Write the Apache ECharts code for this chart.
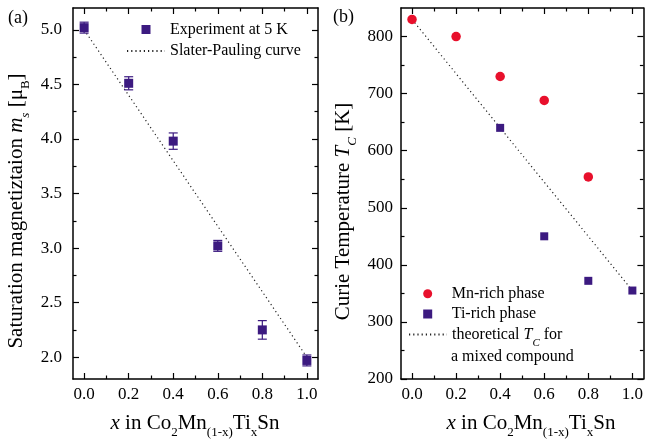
<!DOCTYPE html>
<html>
<head>
<meta charset="utf-8">
<script src="https://cdn.jsdelivr.net/npm/echarts@6/dist/echarts.min.js"></script>
<style>
  html, body { margin: 0; padding: 0; background: #fff; }
  #chart { width: 646px; height: 442px; }
</style>
</head>
<body>
<div id="chart"></div>
<script>
// ---------- data ----------
const xComp = [0.0, 0.2, 0.4, 0.6, 0.8, 1.0];
const msat = [5.02, 4.51, 3.98, 3.02, 2.25, 1.97];
const msatErr = [0.05, 0.06, 0.075, 0.05, 0.085, 0.05];
const slaterX = [0.0, 1.0];
const slaterY = [5.0, 2.0];

const mnX = [0.0, 0.2, 0.4, 0.6, 0.8];
const mnTc = [830, 800, 730, 688, 554];
const tiX = [0.4, 0.6, 0.8, 1.0];
const tiTc = [640, 450, 372, 355];
const theoX = [0.0, 1.0];
const theoY = [830, 355];

// tick values
const xMajorTicks = [0.0, 0.2, 0.4, 0.6, 0.8, 1.0];
const xMinorTicks = [0.1, 0.3, 0.5, 0.7, 0.9];
const yMajorA = [2.0, 2.5, 3.0, 3.5, 4.0, 4.5, 5.0];
const yMinorA = [2.25, 2.75, 3.25, 3.75, 4.25, 4.75];
const yMajorB = [200, 300, 400, 500, 600, 700, 800];
const yMinorB = [250, 350, 450, 550, 650, 750];

// ---------- style ----------
const FONT = 'Liberation Serif';
const PURPLE = '#3C1A80';
const RED = '#E8102C';
const INK = '#000';
const NOFILL = { color: 'rgba(0,0,0,0)', borderColor: 'rgba(0,0,0,0)', borderWidth: 0 };
const SQUARE = 'path://M0,0L10,0L10,10L0,10Z';

function makeAxis(grid, pos, min, max, ticks, len, showLine, showLabel, fmt, margin) {
  return {
    type: 'value', gridIndex: grid, position: pos, min: min, max: max,
    axisLine: { show: showLine, onZero: false, lineStyle: { color: INK, width: 1.5 } },
    axisTick: { show: true, inside: true, length: len, customValues: ticks,
                lineStyle: { color: INK, width: 1.2 } },
    axisLabel: showLabel ? { show: true, customValues: ticks, formatter: fmt, margin: margin,
                fontFamily: FONT, fontSize: 17, color: INK } : { show: false },
    splitLine: { show: false },
    minorTick: { show: false }
  };
}

const fx = v => v.toFixed(1);
const fyA = v => v.toFixed(1);
const fyB = v => String(Math.round(v));

const xAxes = [];
const yAxes = [];
[0, 1].forEach(g => {
  xAxes.push(makeAxis(g, 'bottom', -0.05, 1.05, xMajorTicks, 6, true, true, fx, 7));
  xAxes.push(makeAxis(g, 'bottom', -0.05, 1.05, xMinorTicks, 3.5, false, false));
  xAxes.push(makeAxis(g, 'top', -0.05, 1.05, xMajorTicks, 6, true, false));
  xAxes.push(makeAxis(g, 'top', -0.05, 1.05, xMinorTicks, 3.5, false, false));
});
yAxes.push(makeAxis(0, 'left', 1.8, 5.2, yMajorA, 6, true, true, fyA, 11));
yAxes.push(makeAxis(0, 'left', 1.8, 5.2, yMinorA, 3.5, false, false));
yAxes.push(makeAxis(0, 'right', 1.8, 5.2, yMajorA, 6, true, false));
yAxes.push(makeAxis(0, 'right', 1.8, 5.2, yMinorA, 3.5, false, false));
yAxes.push(makeAxis(1, 'left', 200, 850, yMajorB, 6, true, true, fyB, 8));
yAxes.push(makeAxis(1, 'left', 200, 850, yMinorB, 3.5, false, false));
yAxes.push(makeAxis(1, 'right', 200, 850, yMajorB, 6, true, false));
yAxes.push(makeAxis(1, 'right', 200, 850, yMinorB, 3.5, false, false));

const zip = (a, b) => a.map((v, i) => [v, b[i]]);

const errData = xComp.map((x, i) => [x, msat[i] - msatErr[i], msat[i] + msatErr[i]]);

const titleRich = {
  n: { fontFamily: FONT, fontSize: 21, lineHeight: 24, color: INK },
  i: { fontFamily: FONT, fontSize: 21, lineHeight: 24, fontStyle: 'italic', color: INK },
  s: { fontFamily: FONT, fontSize: 13, lineHeight: 14, padding: [20, 0, 0, 0], color: INK },
  si: { fontFamily: FONT, fontSize: 13, lineHeight: 14, padding: [20, 0, 0, 0], fontStyle: 'italic', color: INK }
};
const xTitle = '{i|x}{n| in Co}{s|2}{n|Mn}{s|(1-x)}{n|Ti}{s|x}{n|Sn}';

const option = {
  backgroundColor: '#fff',
  animation: false,
  grid: [
    { left: 73, top: 8, width: 245, height: 371 },
    { left: 401, top: 8, width: 244, height: 371 }
  ],
  xAxis: xAxes,
  yAxis: yAxes,
  legend: [
    {
      left: 126, top: 19.5, orient: 'vertical', padding: 0, symbolKeepAspect: true,
      itemWidth: 38, itemHeight: 9, itemGap: 1.5, selectedMode: false,
      data: [
        { name: 'Experiment at 5 K', icon: SQUARE },
        { name: 'Slater-Pauling curve', itemStyle: NOFILL }
      ],
      textStyle: { fontFamily: FONT, fontSize: 16, lineHeight: 20, color: INK }
    },
    {
      left: 423.2, top: 283.7, orient: 'vertical', padding: 0, symbolKeepAspect: true,
      itemWidth: 38, itemHeight: 9, itemGap: 0.3, selectedMode: false,
      data: [
        { name: 'Mn-rich phase', icon: 'circle' },
        { name: 'Ti-rich phase', icon: SQUARE }
      ],
      textStyle: { fontFamily: FONT, fontSize: 16, lineHeight: 20, color: INK }
    },
    {
      left: 408, top: 320.5, orient: 'vertical', padding: 0,
      itemWidth: 38, itemHeight: 9, selectedMode: false,
      data: [{ name: 'theoretical TC for', itemStyle: NOFILL }],
      formatter: () => '{n|theoretical }{i|T}{s|C}{n| for}',
      textStyle: {
        fontFamily: FONT, fontSize: 16, color: INK,
        rich: {
          n: { fontFamily: FONT, fontSize: 16, lineHeight: 18, color: INK },
          i: { fontFamily: FONT, fontSize: 16, lineHeight: 18, fontStyle: 'italic', color: INK },
          s: { fontFamily: FONT, fontSize: 11, lineHeight: 12, padding: [17, 0, 0, 0], fontStyle: 'italic', color: INK }
        }
      }
    }
  ],
  graphic: [
    { type: 'text', x: 8, y: 18, style: { text: '(a)', fontFamily: FONT, fontSize: 18, fill: INK, verticalAlign: 'middle' } },
    { type: 'text', x: 333, y: 17.5, style: { text: '(b)', fontFamily: FONT, fontSize: 18, fill: INK, verticalAlign: 'middle' } },
    { type: 'text', x: 195, y: 423, style: { text: xTitle, rich: titleRich, align: 'center', verticalAlign: 'middle', fill: INK } },
    { type: 'text', x: 531, y: 423, style: { text: xTitle, rich: titleRich, align: 'center', verticalAlign: 'middle', fill: INK } },
    { type: 'text', x: 16, y: 211, rotation: Math.PI / 2,
      style: { text: '{n|Saturation magnetiztaion }{i|m}{si|s}{n| [μ}{s|B}{n|]}', rich: titleRich, align: 'center', verticalAlign: 'middle', fill: INK } },
    { type: 'text', x: 343, y: 211.5, rotation: Math.PI / 2,
      style: { text: '{n|Curie Temperature }{i|T}{si|C}{n| [K]}', rich: titleRich, align: 'center', verticalAlign: 'middle', fill: INK } },
    { type: 'text', x: 451, y: 357, style: { text: 'a mixed compound', fontFamily: FONT, fontSize: 16, fill: INK, verticalAlign: 'middle' } }
  ],
  series: [
    {
      name: 'Slater-Pauling curve', type: 'line', xAxisIndex: 0, yAxisIndex: 0,
      data: zip(slaterX, slaterY), symbol: 'none', silent: true,
      lineStyle: { color: '#222', width: 1.2, type: [1.2, 3] }, z: 2
    },
    {
      name: 'errbars', type: 'custom', xAxisIndex: 0, yAxisIndex: 0,
      data: errData, encode: { x: 0, y: [1, 2] }, silent: true, z: 3,
      renderItem: function (params, api) {
        const x = api.value(0);
        const top = api.coord([x, api.value(2)]);
        const bot = api.coord([x, api.value(1)]);
        const cap = 4.5;
        const st = { stroke: PURPLE, lineWidth: 1.2 };
        return { type: 'group', children: [
          { type: 'line', shape: { x1: top[0], y1: top[1], x2: bot[0], y2: bot[1] }, style: st },
          { type: 'line', shape: { x1: top[0] - cap, y1: top[1], x2: top[0] + cap, y2: top[1] }, style: st },
          { type: 'line', shape: { x1: bot[0] - cap, y1: bot[1], x2: bot[0] + cap, y2: bot[1] }, style: st }
        ] };
      }
    },
    {
      name: 'Experiment at 5 K', type: 'scatter', xAxisIndex: 0, yAxisIndex: 0,
      data: zip(xComp, msat), symbol: 'rect', symbolSize: 9,
      itemStyle: { color: PURPLE, opacity: 1 }, z: 4
    },
    {
      name: 'theoretical TC for', type: 'line', xAxisIndex: 4, yAxisIndex: 4,
      data: zip(theoX, theoY), symbol: 'none', silent: true,
      lineStyle: { color: '#222', width: 1.2, type: [1.2, 3] }, z: 2
    },
    {
      name: 'Mn-rich phase', type: 'scatter', xAxisIndex: 4, yAxisIndex: 4,
      data: zip(mnX, mnTc), symbol: 'circle', symbolSize: 9.5,
      itemStyle: { color: RED, opacity: 1 }, z: 4
    },
    {
      name: 'Ti-rich phase', type: 'scatter', xAxisIndex: 4, yAxisIndex: 4,
      data: zip(tiX, tiTc), symbol: 'rect', symbolSize: 8,
      itemStyle: { color: PURPLE, opacity: 1 }, z: 4
    }
  ]
};

const chart = echarts.init(document.getElementById('chart'), null, { renderer: 'canvas' });
chart.setOption(option);
</script>
</body>
</html>
